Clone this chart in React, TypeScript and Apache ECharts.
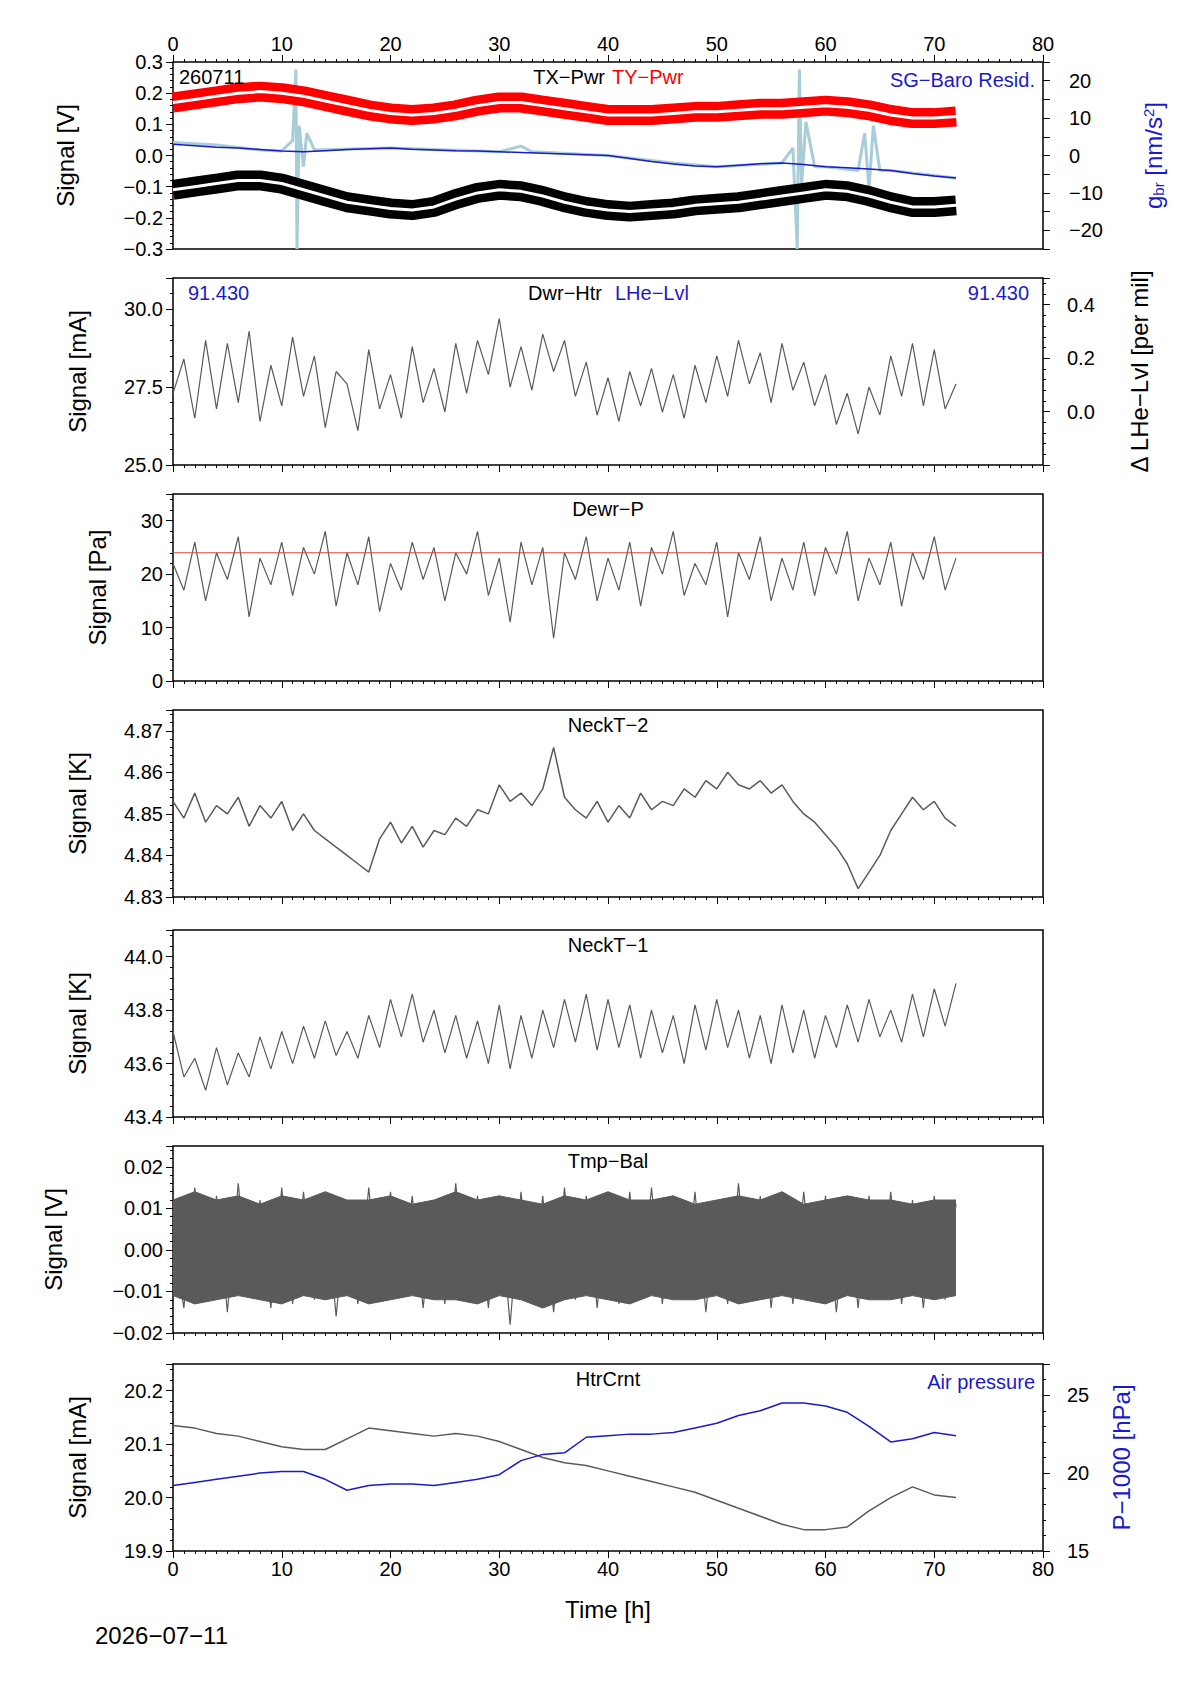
import React, { useEffect, useRef } from "react";
import * as echarts from "echarts";

// 2-hour resolution (x = 0..72)
const tyPwr = [0.17,0.18,0.19,0.20,0.205,0.20,0.19,0.175,0.16,0.145,0.135,0.13,0.135,0.145,0.16,0.17,0.17,0.16,0.15,0.14,0.13,0.13,0.13,0.135,0.14,0.14,0.145,0.15,0.15,0.155,0.16,0.155,0.145,0.13,0.12,0.12,0.125];
const txPwr = [-0.11,-0.10,-0.09,-0.08,-0.08,-0.09,-0.11,-0.13,-0.15,-0.16,-0.17,-0.175,-0.165,-0.14,-0.12,-0.11,-0.115,-0.13,-0.15,-0.165,-0.175,-0.18,-0.175,-0.17,-0.16,-0.155,-0.15,-0.14,-0.13,-0.12,-0.11,-0.115,-0.13,-0.15,-0.165,-0.165,-0.16];
const sgSmooth = [3,2.6,2.2,2,1.6,1.2,1,1.3,1.6,1.8,2,1.7,1.5,1.3,1.2,1,0.8,0.6,0.4,0.2,0,-0.8,-1.6,-2.3,-2.8,-3,-2.6,-2.2,-2,-2.4,-3,-3.3,-3.6,-4,-4.8,-5.5,-6];
const sgRawT = [0,4,8,10,11,11.3,11.4,11.6,12,12.3,13,20,30,32,33,40,46,50,56,57,57.4,57.6,57.8,58.2,59,60,63,63.6,64,64.4,65,66,72];
const sgRaw = [3.5,2.8,1.5,1.2,4,23,-25,8,-3,6,1.5,2,1,2.5,1,0,-2,-3,-2,2,-25,23,-8,9,-3,-3,-4,6,-9,8,-4,-4,-6];
const htrCrnt = [20.135,20.13,20.12,20.115,20.105,20.095,20.09,20.09,20.11,20.13,20.125,20.12,20.115,20.12,20.115,20.105,20.09,20.075,20.065,20.06,20.05,20.04,20.03,20.02,20.01,19.995,19.98,19.965,19.95,19.94,19.94,19.945,19.975,20.0,20.02,20.005,20.0];
const airP = [19.2,19.4,19.6,19.8,20.0,20.1,20.1,19.6,18.9,19.2,19.3,19.3,19.2,19.4,19.6,19.9,20.8,21.2,21.3,22.3,22.4,22.5,22.5,22.6,22.9,23.2,23.7,24.0,24.5,24.5,24.3,23.9,23.0,22.0,22.2,22.6,22.4];
const tmpUpper = [0.012,0.014,0.012,0.013,0.011,0.013,0.012,0.014,0.012,0.012,0.013,0.011,0.012,0.014,0.012,0.013,0.012,0.011,0.013,0.012,0.014,0.012,0.012,0.013,0.011,0.012,0.013,0.012,0.014,0.011,0.012,0.013,0.012,0.012,0.011,0.012,0.012];
const tmpLower = [-0.011,-0.013,-0.012,-0.011,-0.012,-0.013,-0.011,-0.012,-0.011,-0.013,-0.012,-0.011,-0.012,-0.012,-0.013,-0.011,-0.012,-0.014,-0.012,-0.011,-0.012,-0.013,-0.011,-0.012,-0.012,-0.011,-0.013,-0.012,-0.011,-0.012,-0.013,-0.011,-0.012,-0.012,-0.011,-0.012,-0.011];
// 1-hour resolution (x = 0..72)
const dwrHtr = [27.3,28.4,26.5,29.0,26.8,28.9,27.0,29.3,26.4,28.2,26.9,29.1,27.2,28.5,26.2,28.0,27.6,26.1,28.7,26.8,27.9,26.5,28.8,27.0,28.1,26.7,28.9,27.3,29.0,27.9,29.7,27.5,28.8,27.4,29.2,28.0,29.0,27.2,28.3,26.6,27.8,26.4,28.0,26.9,28.1,26.7,27.9,26.5,28.2,27.0,28.5,27.2,29.0,27.6,28.6,27.0,28.9,27.4,28.3,26.9,27.9,26.3,27.3,26.0,27.5,26.6,28.5,27.2,28.9,26.9,28.7,26.8,27.6];
const dewrP = [22,17,26,15,24,19,27,12,23,18,26,16,25,20,28,14,24,18,27,13,22,17,26,19,25,15,24,20,28,16,23,11,26,18,25,8,24,19,27,15,23,17,26,14,25,20,28,16,22,18,26,12,24,19,27,15,23,17,26,16,25,20,28,15,23,18,26,14,24,19,27,17,23];
const neckT2 = [4.853,4.849,4.855,4.848,4.852,4.850,4.854,4.847,4.852,4.849,4.853,4.846,4.850,4.846,4.844,4.842,4.840,4.838,4.836,4.844,4.848,4.843,4.847,4.842,4.846,4.845,4.849,4.847,4.851,4.850,4.857,4.853,4.855,4.852,4.856,4.866,4.854,4.851,4.849,4.853,4.848,4.852,4.849,4.855,4.851,4.853,4.852,4.856,4.854,4.858,4.856,4.860,4.857,4.856,4.858,4.855,4.857,4.853,4.850,4.848,4.845,4.842,4.838,4.832,4.836,4.840,4.846,4.850,4.854,4.851,4.853,4.849,4.847];
const neckT1 = [43.72,43.55,43.62,43.50,43.66,43.52,43.64,43.55,43.70,43.58,43.72,43.60,43.74,43.62,43.76,43.63,43.72,43.62,43.78,43.66,43.84,43.70,43.86,43.68,43.80,43.64,43.78,43.62,43.76,43.60,43.82,43.58,43.78,43.62,43.80,43.66,43.84,43.68,43.86,43.65,43.84,43.66,43.82,43.62,43.80,43.64,43.78,43.60,43.82,43.65,43.84,43.66,43.80,43.62,43.78,43.60,43.82,43.64,43.80,43.62,43.78,43.66,43.82,43.68,43.84,43.70,43.80,43.68,43.86,43.70,43.88,43.74,43.90];
const tmpBal = [0.004,-0.014,0.015,-0.012,0.013,-0.015,0.016,-0.011,0.012,-0.014,0.015,-0.013,0.014,-0.012,0.013,-0.016,0.012,-0.013,0.015,-0.012,0.014,-0.011,0.013,-0.014,0.012,-0.013,0.016,-0.012,0.013,-0.014,0.012,-0.018,0.014,-0.012,0.013,-0.015,0.015,-0.012,0.013,-0.014,0.012,-0.013,0.014,-0.012,0.015,-0.013,0.013,-0.012,0.014,-0.015,0.012,-0.013,0.016,-0.012,0.013,-0.014,0.012,-0.013,0.014,-0.012,0.013,-0.015,0.012,-0.014,0.013,-0.012,0.014,-0.013,0.012,-0.014,0.013,-0.012,0.011];

const pts = (arr: number[], step: number) => arr.map((v, i) => [i * step, v]);
const F = "Liberation Sans";
const tops = [62, 278, 494, 710, 930, 1146, 1364];
const H = 187;
const LEFT = 173, W = 870;
const GREY = "#5a5a5a";
const FS = 20;

export default function App() {
  const ref = useRef<HTMLDivElement>(null);
  useEffect(() => {
    const chart = echarts.init(ref.current!, null, { renderer: "svg" });
    const grids = tops.map((t) => ({ left: LEFT, top: t, width: W, height: H, show: true, borderColor: "#000", borderWidth: 1.5, backgroundColor: "transparent" }));
    const xAxes = tops.map((_, i) => ({
      gridIndex: i, type: "value", min: 0, max: 80, interval: 10,
      position: i === 0 ? "top" : "bottom",
      axisLine: { show: false, onZero: false },
      axisTick: { show: true, inside: false, length: 7, lineStyle: { color: "#000" } },
      minorTick: { show: true, splitNumber: 10, length: 3, lineStyle: { color: "#000" } },
      splitLine: { show: false },
      axisLabel: { show: i === 0 || i === 6, fontFamily: F, fontSize: FS, color: "#000", margin: 8 },
      name: i === 6 ? "Time [h]" : "", nameLocation: "middle", nameGap: 46,
      nameTextStyle: { fontFamily: F, fontSize: 24, color: "#000" },
    }));
    const yBase = (gi: number, min: number, max: number, interval: number, name: string, dec: number, pos = "left", color = "#000", extra: any = {}) => ({
      gridIndex: gi, type: "value", min, max, interval, position: pos,
      axisLine: { show: false, onZero: false }, splitLine: { show: false },
      axisTick: { show: true, length: 7, lineStyle: { color: "#000" } },
      minorTick: { show: true, splitNumber: 5, length: 3, lineStyle: { color: "#000" } },
      axisLabel: { fontFamily: F, fontSize: FS, color: "#000", margin: 10, showMaxLabel: false, formatter: (v: number) => v.toFixed(dec).replace("-", "\u2212") },
      name, nameLocation: "middle", nameGap: pos === "left" ? 84 : 60, nameRotate: 90,
      nameTextStyle: { fontFamily: F, fontSize: 24, color },
      ...extra,
    });
    const yAxes: any[] = [
      yBase(0, -0.3, 0.3, 0.1, "Signal [V]", 1, "left", "#000", { nameGap: 96, axisLabel: { fontFamily: F, fontSize: FS, color: "#000", margin: 10, formatter: (v: number) => v.toFixed(1).replace("-", "\u2212") } }),
      yBase(1, 25, 31, 2.5, "Signal [mA]", 1),
      yBase(2, 0, 35, 10, "Signal [Pa]", 0, "left", "#000", { nameGap: 64 }),
      yBase(3, 4.83, 4.875, 0.01, "Signal [K]", 2),
      yBase(4, 43.4, 44.1, 0.2, "Signal [K]", 1),
      yBase(5, -0.02, 0.025, 0.01, "Signal [V]", 2, "left", "#000", { nameGap: 108 }),
      yBase(6, 19.9, 20.25, 0.1, "Signal [mA]", 1),
      yBase(0, -25, 25, 5, "{a|g}{s|br}{a| [nm/s}{p|2}{a|]}", 0, "right", "#1a1acc", {
        axisLabel: { fontFamily: F, fontSize: FS, color: "#000", margin: 26, formatter: (v: number) => (v % 10 === 0 ? String(v).replace("-", "\u2212") : "") },
        minorTick: { show: false }, nameGap: 98,
        nameTextStyle: { fontFamily: F, fontSize: 24, color: "#1a1acc", rich: { a: { fontFamily: F, fontSize: 24, color: "#1a1acc" }, s: { fontFamily: F, fontSize: 15, color: "#1a1acc", verticalAlign: "bottom", padding: [10, 0, 0, 0] }, p: { fontFamily: F, fontSize: 15, color: "#1a1acc", verticalAlign: "top", padding: [0, 0, 10, 0] } } },
      }),
      yBase(1, -0.2, 0.5, 0.2, "\u0394 LHe\u2212Lvl [per mil]", 1, "right", "#000", {
        nameGap: 84,
        axisLabel: { fontFamily: F, fontSize: FS, color: "#000", margin: 24, showMaxLabel: false, formatter: (v: number) => (v > -0.1 ? v.toFixed(1) : "") },
      }),
      yBase(6, 15, 27, 5, "P\u22121000 [hPa]", 0, "right", "#1a1acc", {
        nameGap: 66, axisLabel: { fontFamily: F, fontSize: FS, color: "#000", margin: 24, showMaxLabel: false },
      }),
    ];
    const line = (xi: number, yi: number, data: any[], color: string, width = 1, z = 2) => ({
      type: "line", xAxisIndex: xi, yAxisIndex: yi, data, showSymbol: false, symbol: "none",
      lineStyle: { color, width }, z, silent: true,
    });
    const sgRawPts = sgRawT.map((t, i) => [t, sgRaw[i]]);
    const series: any[] = [
      line(0, 7, sgRawPts, "#a8cdd6", 3, 1),
      line(0, 7, pts(sgSmooth, 2), "#1a1acc", 1.5, 2),
      line(0, 0, pts(tyPwr, 2), "#ff0000", 20, 3),
      line(0, 0, pts(tyPwr, 2), "#ffffff", 3, 4),
      line(0, 0, pts(txPwr, 2), "#000000", 20, 3),
      line(0, 0, pts(txPwr, 2), "#ffffff", 3, 4),
      line(1, 1, pts(dwrHtr, 1), GREY, 1.2),
      line(2, 2, pts(dewrP, 1), GREY, 1.2),
      line(2, 2, [[0, 24], [80, 24]], "#e04040", 1, 5),
      line(3, 3, pts(neckT2, 1), GREY, 1.5),
      line(4, 4, pts(neckT1, 1), GREY, 1.2),
      { ...line(5, 5, pts(tmpUpper, 2), GREY, 1), areaStyle: { color: GREY, opacity: 1, origin: 0 } },
      { ...line(5, 5, pts(tmpLower, 2), GREY, 1), areaStyle: { color: GREY, opacity: 1, origin: 0 } },
      line(5, 5, pts(tmpBal, 1), GREY, 1.2),
      line(6, 6, pts(htrCrnt, 2), GREY, 1.5),
      line(6, 9, pts(airP, 2), "#1a1acc", 1.5),
    ];
    const titleY = (i: number) => tops[i] + 15;
    const txt = (x: number, y: number, text: string, fill: string, align = "center", size = FS) => ({
      type: "text", x, y, style: { text, fill, font: `${size}px "${F}"`, textAlign: align, textVerticalAlign: "middle" }, z: 100,
    });
    const titles = ["", "", "Dewr\u2212P", "NeckT\u22122", "NeckT\u22121", "Tmp\u2212Bal", "HtrCrnt"];
    const graphic: any[] = [
      txt(179, titleY(0), "260711", "#000", "left"),
      txt(605, titleY(0), "TX\u2212Pwr", "#000", "right"),
      txt(612, titleY(0), "TY\u2212Pwr", "#ff0000", "left"),
      txt(1035, titleY(0) + 3, "SG\u2212Baro Resid.", "#1a1acc", "right"),
      txt(188, titleY(1), "91.430", "#1a1acc", "left"),
      txt(602, titleY(1), "Dwr\u2212Htr", "#000", "right"),
      txt(615, titleY(1), "LHe\u2212Lvl", "#1a1acc", "left"),
      txt(1029, titleY(1), "91.430", "#1a1acc", "right"),
      txt(1035, titleY(6) + 3, "Air pressure", "#1a1acc", "right"),
      txt(95, 1635, "2026\u221207\u221211", "#000", "left", 24),
    ];
    titles.forEach((t, i) => { if (t) graphic.push(txt(608, titleY(i), t, "#000")); });
    chart.setOption({ animation: false, backgroundColor: "#fff", grid: grids, xAxis: xAxes, yAxis: yAxes, series, graphic });
    return () => chart.dispose();
  }, []);
  return <div ref={ref} style={{ position: "absolute", left: 0, top: 0, width: 1190, height: 1684 }} />;
}
